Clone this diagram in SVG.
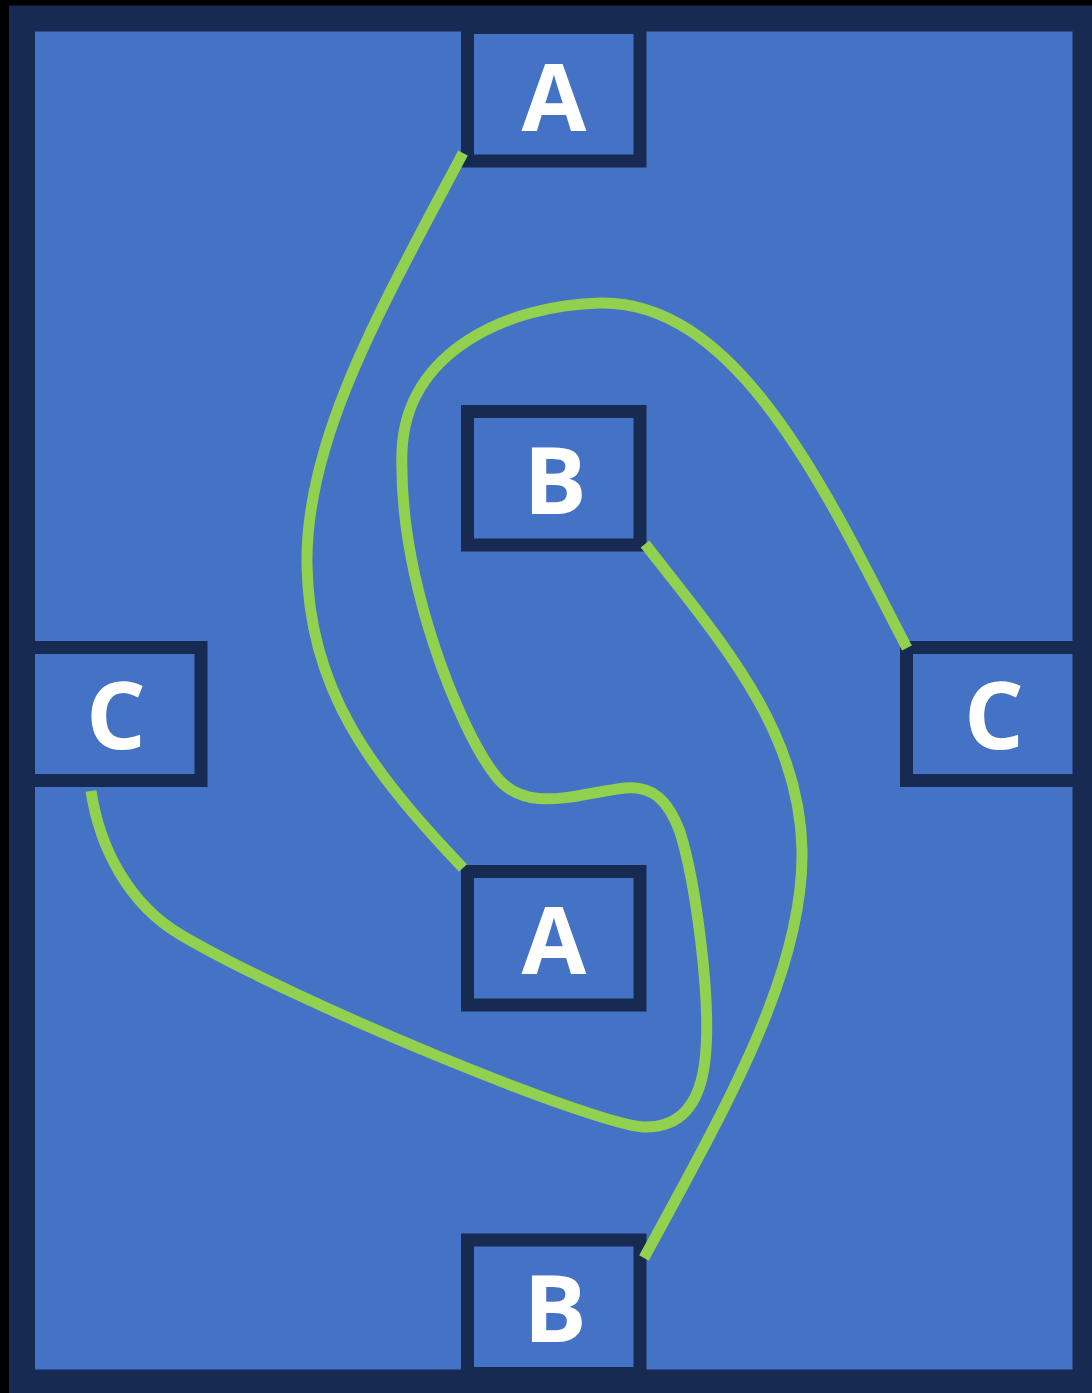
<svg xmlns="http://www.w3.org/2000/svg" width="1092" height="1393" viewBox="0 0 1092 1393">
  <style>
    .frame { fill: #4472C4; stroke: #172B52; stroke-width: 26; }
    .box { fill: #4472C4; stroke: #172B52; stroke-width: 13; }
    .label { fill: #FFFFFF; font-family: "Open Sans", "Noto Sans", "Liberation Sans", sans-serif; font-weight: bold; font-size: 94px; text-anchor: middle; }
    .link { fill: none; stroke: #92D050; stroke-width: 11; stroke-linecap: butt; stroke-linejoin: round; }
  </style>

  <!-- background and outer frame -->
  <rect x="0" y="0" width="1092" height="1393" fill="#000000"/>
  <rect class="frame" x="22" y="18.5" width="1063.5" height="1364"/>

  <!-- nodes -->
  <g id="node-a-top">
    <rect class="box" x="467.5" y="27.5" width="172.5" height="133.5"/>
    <text class="label" x="554" y="131">A</text>
  </g>
  <g id="node-b-mid">
    <rect class="box" x="467.5" y="411.5" width="172.5" height="133.5"/>
    <text class="label" x="555" y="514">B</text>
  </g>
  <g id="node-c-left">
    <rect class="box" x="28.5" y="647.5" width="172.5" height="133"/>
    <text class="label" x="116" y="749">C</text>
  </g>
  <g id="node-c-right">
    <rect class="box" x="906.5" y="647.5" width="172.5" height="133"/>
    <text class="label" x="994" y="749">C</text>
  </g>
  <g id="node-a-mid">
    <rect class="box" x="467.5" y="871.5" width="172.5" height="133.5"/>
    <text class="label" x="554" y="974">A</text>
  </g>
  <g id="node-b-bottom">
    <rect class="box" x="467.5" y="1240" width="172.5" height="133.5"/>
    <text class="label" x="555" y="1342">B</text>
  </g>

  <!-- connectors -->
  <g id="connectors">
    <!-- A to A -->
    <path class="link" d="M463,153 C380,310 305,440 307,565 C309,690 370,770 463,868"/>
    <!-- B to B -->
    <path class="link" d="M645,544 C720,640 800,730 802,850 C804,970 730,1100 644,1258"/>
    <!-- C to C -->
    <path class="link" d="M907,648 C830,500 740,300 600,303 C510,305 406,350 402,451 C398,580 460,730 495,775 C525,815 575,794 625,788 C652,785 668,800 680,832 C695,880 712,1000 705,1060 C700,1105 680,1127 645,1127 C600,1127 300,1005 181,935 C130,905 100,850 91,791"/>
  </g>
</svg>
